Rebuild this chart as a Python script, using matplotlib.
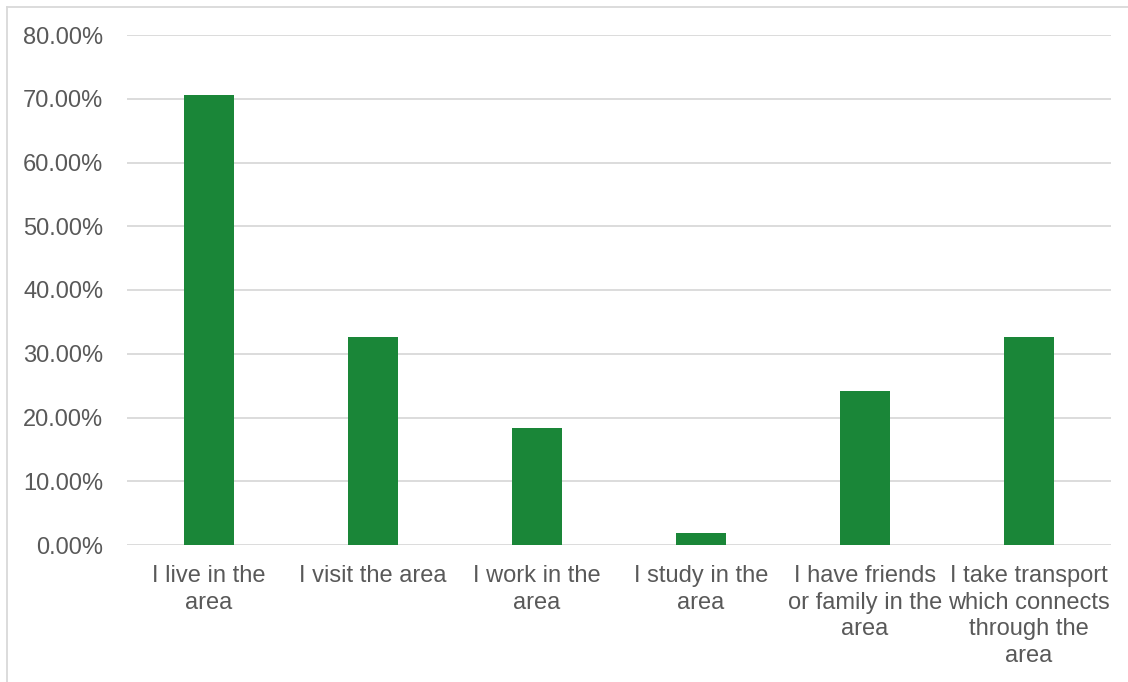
import matplotlib
matplotlib.use('Agg')
import matplotlib.pyplot as plt
from matplotlib.lines import Line2D
from matplotlib.ticker import FuncFormatter
import numpy as np

CATEGORIES = [
    'I live in the\narea',
    'I visit the area',
    'I work in the\narea',
    'I study in the\narea',
    'I have friends\nor family in the\narea',
    'I take transport\nwhich connects\nthrough the\narea',
]
PERCENTS = [70.6, 32.6, 18.4, 1.9, 24.2, 32.6]
Y_TICKS = [0, 10, 20, 30, 40, 50, 60, 70, 80]

BAR_COLOR = '#1A8638'
TEXT_COLOR = '#595959'
GRID_COLOR = '#D9D9D9'

plt.rcParams['font.family'] = ['Liberation Sans', 'DejaVu Sans']

W, H = 1128, 682
fig = plt.figure(figsize=(W / 100, H / 100), dpi=100)
ax = fig.add_axes([127 / W, 1 - 545 / H, (1111 - 127) / W, (545 - 35) / H])

x = np.arange(len(CATEGORIES))
ax.bar(x, PERCENTS, width=0.31, color=BAR_COLOR, zorder=3)

ax.set_ylim(0, 80)
ax.set_xlim(-0.5, len(CATEGORIES) - 0.5)
ax.set_yticks(Y_TICKS)
ax.yaxis.set_major_formatter(FuncFormatter(lambda v, _: f'{v:.2f}%'))
ax.set_xticks(x)
ax.set_xticklabels(CATEGORIES, linespacing=1.27)
ax.yaxis.grid(True, color=GRID_COLOR, linewidth=1.3, zorder=0)
ax.set_axisbelow(True)
for s in ax.spines.values():
    s.set_visible(False)
ax.tick_params(axis='both', length=0, labelsize=17, labelcolor=TEXT_COLOR)
ax.tick_params(axis='y', pad=17)
ax.tick_params(axis='x', pad=14.5)

# chart area border (only top and left visible in the crop)
fig.add_artist(Line2D([6.5 / W, 1.0], [1 - 6.5 / H, 1 - 6.5 / H], color=GRID_COLOR, linewidth=1.3))
fig.add_artist(Line2D([6.5 / W, 6.5 / W], [0.0, 1 - 6.5 / H], color=GRID_COLOR, linewidth=1.3))

fig.savefig('out.png', dpi=100)
plt.close(fig)
